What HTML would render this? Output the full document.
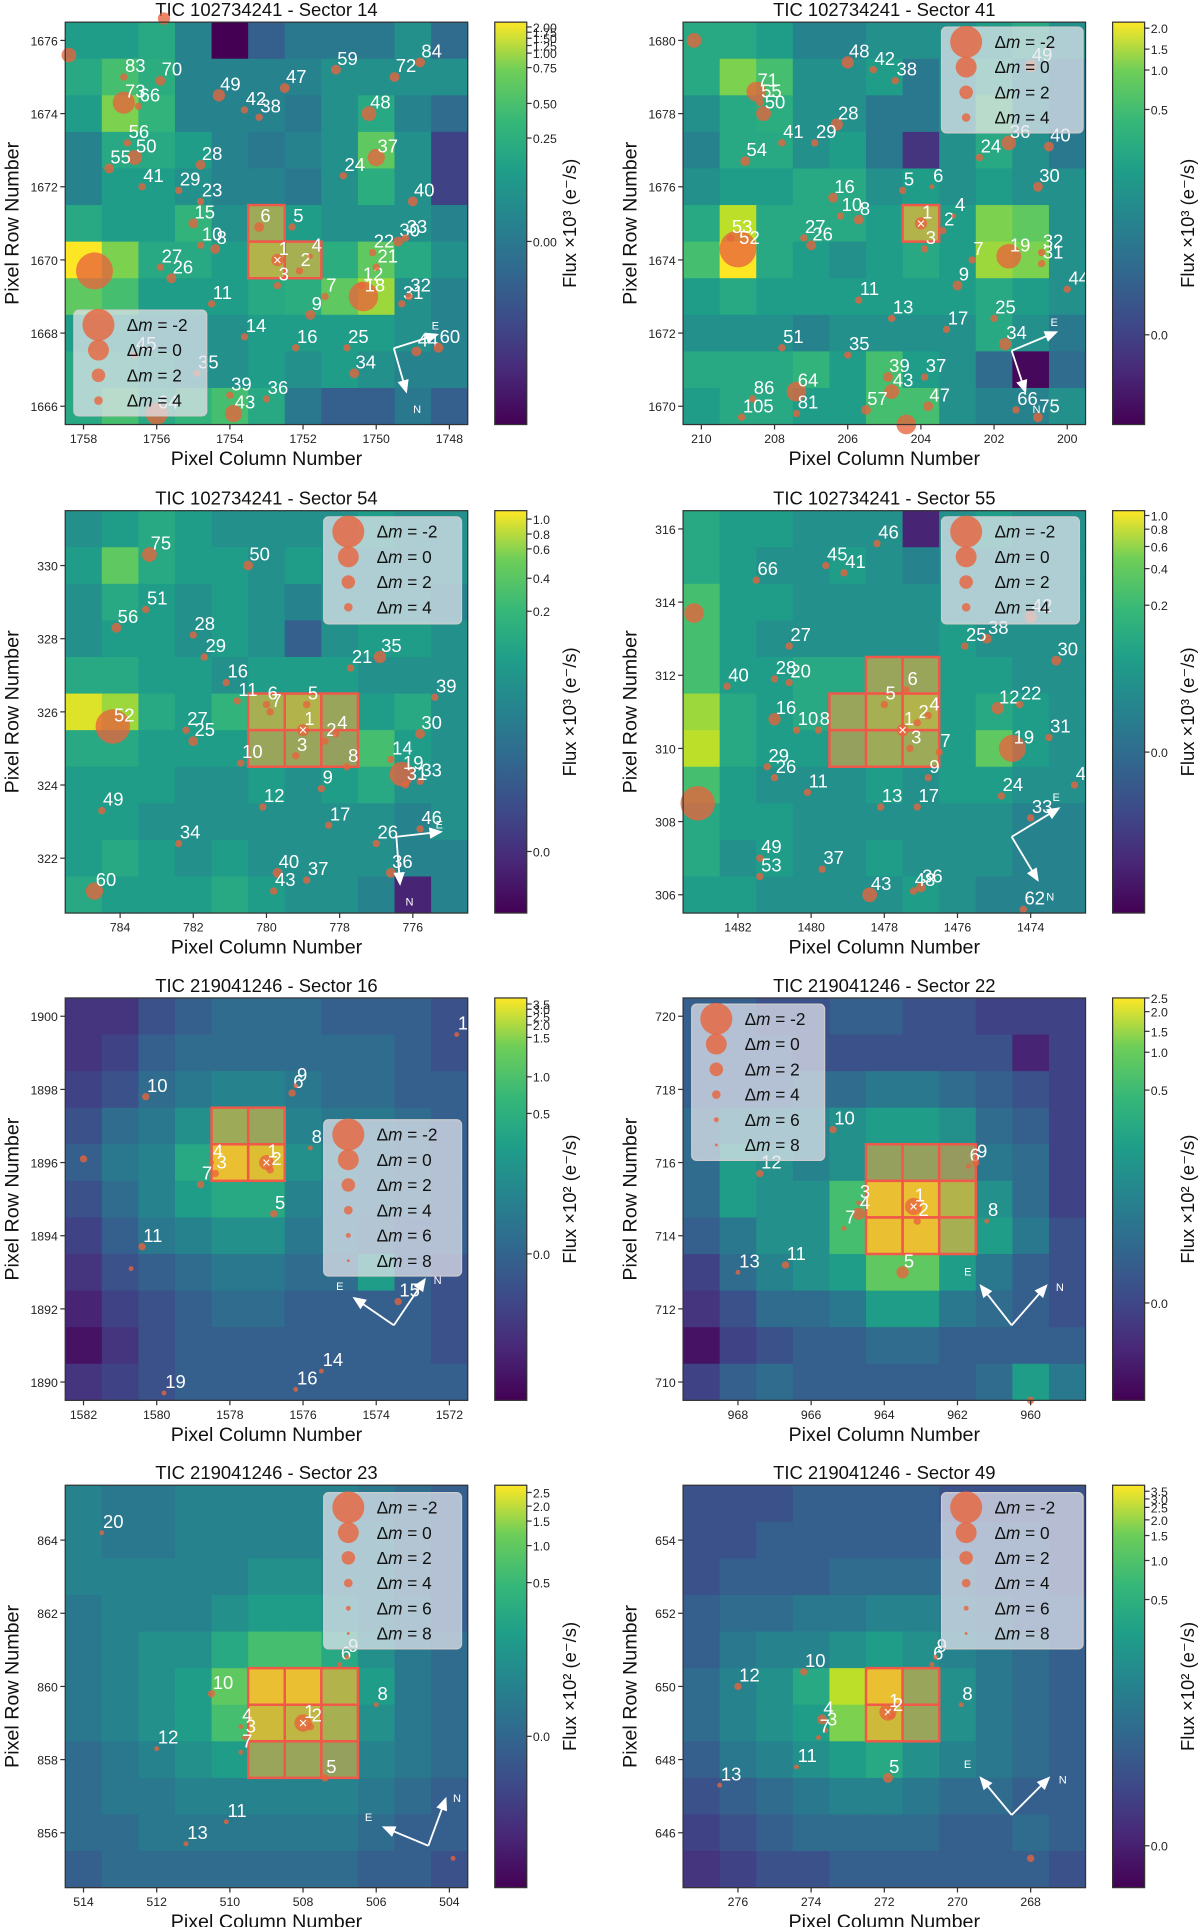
<!DOCTYPE html>
<html><head><meta charset="utf-8"><title>TESS target pixel files</title>
<style>
html,body{margin:0;padding:0;background:#fff;}
svg{display:block;font-family:"Liberation Sans","DejaVu Sans",sans-serif;}
</style></head>
<body>
<svg id="fig" width="1200" height="1927" viewBox="0 0 975 1566" preserveAspectRatio="none" xmlns="http://www.w3.org/2000/svg">
<defs>
<linearGradient id="viridis" x1="0" y1="1" x2="0" y2="0">
<stop offset="0" stop-color="#440154"/><stop offset="0.13" stop-color="#482878"/><stop offset="0.25" stop-color="#3e4989"/><stop offset="0.38" stop-color="#31688e"/><stop offset="0.5" stop-color="#26828e"/><stop offset="0.63" stop-color="#1f9e89"/><stop offset="0.75" stop-color="#35b779"/><stop offset="0.88" stop-color="#6ece58"/><stop offset="1" stop-color="#fde725"/>
</linearGradient>
</defs>
</svg>
<script>
// ---------- Panel data (heatmap values normalised 0..1, rows top->bottom) ----------
const s14Values=[
[0.55,0.55,0.6,0.45,0.0,0.3,0.4,0.4,0.4,0.5,0.35],
[0.6,0.7,0.62,0.45,0.45,0.45,0.45,0.5,0.5,0.5,0.5],
[0.55,0.8,0.65,0.45,0.45,0.45,0.4,0.5,0.6,0.45,0.35],
[0.45,0.6,0.6,0.55,0.45,0.4,0.45,0.5,0.75,0.5,0.2],
[0.45,0.55,0.55,0.5,0.45,0.45,0.4,0.5,0.62,0.5,0.2],
[0.6,0.55,0.55,0.65,0.5,0.65,0.55,0.5,0.5,0.5,0.45],
[1.0,0.8,0.6,0.6,0.55,0.75,0.7,0.62,0.75,0.6,0.5],
[0.75,0.7,0.55,0.55,0.55,0.6,0.62,0.75,0.85,0.5,0.45],
[0.55,0.55,0.5,0.5,0.5,0.55,0.55,0.55,0.55,0.5,0.45],
[0.6,0.6,0.55,0.5,0.5,0.55,0.5,0.55,0.5,0.45,0.45],
[0.6,0.7,0.6,0.65,0.7,0.6,0.4,0.3,0.3,0.4,0.3]];
const s41Values=[
[0.6,0.6,0.55,0.45,0.45,0.5,0.5,0.5,0.55,0.6,0.5],
[0.6,0.8,0.7,0.5,0.5,0.55,0.4,0.5,0.6,0.5,0.4],
[0.5,0.6,0.62,0.5,0.5,0.4,0.4,0.5,0.7,0.5,0.4],
[0.45,0.6,0.6,0.5,0.55,0.4,0.15,0.5,0.6,0.5,0.4],
[0.5,0.55,0.55,0.6,0.6,0.5,0.55,0.5,0.55,0.5,0.5],
[0.6,0.9,0.6,0.6,0.6,0.55,0.75,0.55,0.8,0.75,0.5],
[0.7,1.0,0.6,0.55,0.5,0.55,0.6,0.55,0.85,0.8,0.5],
[0.55,0.6,0.55,0.55,0.55,0.55,0.55,0.55,0.6,0.55,0.5],
[0.5,0.5,0.5,0.45,0.5,0.5,0.5,0.5,0.6,0.5,0.4],
[0.6,0.6,0.6,0.65,0.55,0.7,0.55,0.5,0.35,0.02,0.35],
[0.55,0.6,0.6,0.55,0.55,0.7,0.7,0.5,0.45,0.45,0.5]];
const s54Values=[
[0.5,0.55,0.6,0.55,0.5,0.5,0.5,0.5,0.55,0.5,0.5],
[0.55,0.75,0.6,0.55,0.55,0.5,0.55,0.5,0.5,0.5,0.5],
[0.5,0.6,0.55,0.5,0.55,0.5,0.45,0.5,0.5,0.5,0.45],
[0.5,0.55,0.55,0.5,0.55,0.5,0.3,0.5,0.55,0.55,0.5],
[0.6,0.6,0.55,0.55,0.5,0.55,0.55,0.55,0.5,0.5,0.5],
[0.95,0.85,0.6,0.55,0.65,0.7,0.75,0.6,0.55,0.6,0.5],
[0.6,0.6,0.55,0.55,0.55,0.6,0.6,0.55,0.7,0.55,0.5],
[0.55,0.55,0.55,0.5,0.5,0.55,0.5,0.55,0.6,0.5,0.5],
[0.55,0.55,0.5,0.5,0.5,0.5,0.5,0.5,0.5,0.45,0.5],
[0.55,0.6,0.55,0.5,0.55,0.5,0.5,0.5,0.5,0.45,0.45],
[0.6,0.55,0.55,0.55,0.6,0.55,0.5,0.5,0.45,0.1,0.45]];
const s55Values=[
[0.6,0.55,0.55,0.5,0.5,0.5,0.1,0.5,0.55,0.5,0.5],
[0.6,0.55,0.5,0.5,0.55,0.5,0.45,0.5,0.5,0.5,0.5],
[0.7,0.55,0.55,0.5,0.5,0.5,0.5,0.5,0.5,0.5,0.5],
[0.7,0.55,0.5,0.5,0.5,0.5,0.5,0.55,0.5,0.5,0.5],
[0.7,0.55,0.55,0.6,0.6,0.6,0.6,0.55,0.55,0.5,0.5],
[0.85,0.6,0.55,0.6,0.6,0.7,0.75,0.55,0.6,0.55,0.5],
[0.9,0.6,0.55,0.55,0.55,0.65,0.65,0.55,0.75,0.55,0.5],
[0.7,0.55,0.5,0.5,0.5,0.55,0.5,0.55,0.55,0.5,0.5],
[0.6,0.55,0.55,0.5,0.5,0.5,0.5,0.5,0.5,0.45,0.45],
[0.6,0.5,0.55,0.5,0.5,0.55,0.5,0.5,0.5,0.45,0.45],
[0.55,0.55,0.5,0.5,0.5,0.5,0.55,0.5,0.45,0.45,0.45]];
const s16Values=[
[0.15,0.15,0.25,0.3,0.35,0.35,0.35,0.3,0.3,0.3,0.25],
[0.15,0.2,0.3,0.35,0.35,0.35,0.35,0.35,0.35,0.3,0.25],
[0.2,0.25,0.35,0.4,0.45,0.45,0.4,0.35,0.35,0.3,0.3],
[0.25,0.35,0.4,0.5,0.65,0.6,0.45,0.4,0.4,0.35,0.3],
[0.3,0.4,0.45,0.6,0.95,0.9,0.5,0.45,0.4,0.35,0.3],
[0.25,0.35,0.45,0.55,0.6,0.6,0.45,0.4,0.4,0.35,0.3],
[0.2,0.3,0.4,0.45,0.5,0.5,0.4,0.4,0.35,0.3,0.3],
[0.15,0.25,0.3,0.35,0.4,0.4,0.35,0.35,0.55,0.3,0.25],
[0.1,0.2,0.25,0.3,0.35,0.35,0.3,0.3,0.3,0.3,0.25],
[0.05,0.15,0.25,0.3,0.3,0.3,0.3,0.3,0.3,0.3,0.25],
[0.15,0.2,0.25,0.3,0.3,0.3,0.3,0.3,0.3,0.3,0.3]];
const s22Values=[
[0.3,0.3,0.25,0.25,0.3,0.3,0.25,0.25,0.2,0.2,0.2],
[0.3,0.3,0.3,0.25,0.25,0.25,0.25,0.25,0.25,0.1,0.2],
[0.3,0.3,0.3,0.35,0.35,0.4,0.4,0.35,0.3,0.25,0.2],
[0.35,0.45,0.45,0.45,0.5,0.55,0.55,0.5,0.35,0.3,0.2],
[0.35,0.55,0.5,0.45,0.5,0.55,0.55,0.5,0.4,0.35,0.2],
[0.35,0.55,0.5,0.5,0.7,0.95,0.95,0.75,0.5,0.35,0.2],
[0.3,0.4,0.5,0.5,0.7,0.95,0.95,0.7,0.55,0.4,0.25],
[0.2,0.35,0.45,0.5,0.55,0.75,0.75,0.55,0.4,0.3,0.25],
[0.15,0.25,0.35,0.35,0.4,0.55,0.55,0.4,0.35,0.3,0.25],
[0.05,0.2,0.25,0.3,0.3,0.35,0.35,0.3,0.3,0.3,0.3],
[0.2,0.3,0.35,0.3,0.3,0.3,0.3,0.3,0.35,0.55,0.4]];
const s23Values=[
[0.45,0.4,0.4,0.45,0.45,0.45,0.45,0.45,0.4,0.35,0.3],
[0.45,0.4,0.4,0.45,0.45,0.45,0.45,0.45,0.45,0.35,0.3],
[0.45,0.45,0.45,0.45,0.45,0.5,0.5,0.45,0.45,0.35,0.3],
[0.4,0.45,0.45,0.45,0.5,0.55,0.55,0.5,0.45,0.4,0.3],
[0.4,0.45,0.5,0.5,0.6,0.7,0.7,0.6,0.5,0.4,0.35],
[0.4,0.45,0.5,0.55,0.75,0.95,0.95,0.75,0.55,0.4,0.35],
[0.4,0.45,0.5,0.55,0.7,0.85,0.8,0.7,0.5,0.4,0.35],
[0.35,0.4,0.45,0.5,0.55,0.6,0.6,0.55,0.45,0.4,0.35],
[0.35,0.4,0.4,0.45,0.45,0.45,0.45,0.45,0.4,0.35,0.3],
[0.35,0.35,0.4,0.4,0.4,0.4,0.4,0.4,0.35,0.3,0.3],
[0.3,0.35,0.35,0.35,0.35,0.35,0.35,0.35,0.3,0.3,0.25]];
const s49Values=[
[0.25,0.25,0.25,0.3,0.3,0.3,0.3,0.25,0.25,0.25,0.25],
[0.25,0.25,0.3,0.3,0.3,0.3,0.3,0.3,0.3,0.3,0.25],
[0.25,0.3,0.3,0.3,0.35,0.35,0.35,0.35,0.3,0.3,0.25],
[0.3,0.35,0.35,0.4,0.4,0.45,0.45,0.4,0.35,0.3,0.3],
[0.3,0.4,0.45,0.45,0.5,0.55,0.5,0.45,0.4,0.35,0.3],
[0.35,0.45,0.5,0.6,0.9,0.95,0.6,0.5,0.4,0.35,0.3],
[0.35,0.45,0.5,0.55,0.8,0.85,0.6,0.5,0.4,0.35,0.3],
[0.3,0.4,0.45,0.5,0.55,0.6,0.5,0.45,0.4,0.35,0.3],
[0.25,0.3,0.35,0.4,0.45,0.45,0.4,0.35,0.35,0.3,0.3],
[0.2,0.25,0.3,0.35,0.35,0.35,0.35,0.3,0.3,0.35,0.3],
[0.15,0.2,0.25,0.25,0.3,0.3,0.3,0.3,0.3,0.3,0.25]];

// stars: [column, row, markerRadius, label]
const s14Stars=[[1757.7,1669.7,15,''],[1750.35,1669.0,12,'18'],[1756.9,1674.3,9,'73'],[1752.7,1670.0,5,'1'],[1752.1,1669.7,3,'2'],[1752.7,1669.3,3,'3'],[1751.8,1670.1,2,'4'],[1752.3,1670.9,3,'5'],[1753.2,1670.9,4,'6'],[1751.4,1669.0,3,'7'],[1754.4,1670.3,4,'8'],[1751.8,1668.5,4,'9'],[1754.8,1670.4,3,'10'],[1754.5,1668.8,3,'11'],[1750.4,1669.3,3,'12'],[1753.6,1667.9,3,'14'],[1755.0,1671.0,4,'15'],[1752.2,1667.6,3,'16'],[1750.0,1669.8,3,'21'],[1750.1,1670.2,3,'22'],[1754.8,1671.6,3,'23'],[1750.9,1672.3,3,'24'],[1750.8,1667.6,3,'25'],[1755.6,1669.5,4,'26'],[1755.9,1669.8,3,'27'],[1754.8,1672.6,4,'28'],[1755.4,1671.9,3,'29'],[1749.4,1670.5,4,'30'],[1749.3,1668.8,3,'31'],[1749.1,1669.0,3,'32'],[1749.2,1670.6,3,'33'],[1750.6,1666.9,4,'34'],[1754.9,1666.9,3,'35'],[1753.0,1666.2,3,'36'],[1750.0,1672.8,7,'37'],[1753.2,1673.9,3,'38'],[1754.0,1666.3,3,'39'],[1749.0,1671.6,4,'40'],[1756.4,1672.0,3,'41'],[1753.6,1674.1,3,'42'],[1753.9,1665.8,7,'43'],[1748.9,1667.5,4,'44'],[1756.6,1667.4,3,'45'],[1752.5,1674.7,4,'47'],[1750.2,1674.0,6,'48'],[1754.3,1674.5,5,'49'],[1756.6,1672.8,6,'50'],[1757.3,1672.5,4,'55'],[1756.8,1673.2,3,'56'],[1751.1,1675.2,4,'59'],[1756.0,1665.8,9,'64'],[1756.5,1674.2,3,'66'],[1755.9,1674.9,4,'70'],[1749.5,1675.0,4,'72'],[1756.9,1675.0,3,'83'],[1748.8,1675.4,4,'84'],[1748.3,1667.6,4,'60'],[1755.8,1676.6,5,''],[1758.4,1675.6,6,'']];
const s41Stars=[[209.0,1674.3,15,'52'],[208.5,1678.6,8,'71'],[201.6,1674.1,10,'19'],[204.0,1675.0,5,'1'],[203.4,1674.8,3,'2'],[203.9,1674.3,3,'3'],[203.1,1675.2,2,'4'],[204.5,1675.9,3,'5'],[203.7,1676.0,2,'6'],[206.4,1675.7,4,'16'],[206.2,1675.2,3,'10'],[205.7,1675.1,4,'8'],[202.6,1674.0,3,'7'],[203.0,1673.3,4,'9'],[205.7,1672.9,3,'11'],[204.8,1672.4,3,'13'],[203.3,1672.1,3,'17'],[202.0,1672.4,3,'25'],[201.7,1671.7,5,'34'],[207.0,1674.4,4,'26'],[207.2,1674.6,3,'27'],[209.2,1674.6,3,'53'],[207.8,1671.6,3,'51'],[206.0,1671.4,3,'35'],[204.9,1670.8,4,'39'],[204.8,1670.4,6,'43'],[203.9,1670.8,3,'37'],[203.8,1670.0,4,'47'],[205.5,1669.9,4,'57'],[207.4,1670.4,8,'64'],[207.4,1669.8,3,'81'],[208.6,1670.2,3,'86'],[208.9,1669.7,3,'105'],[200.7,1674.2,3,'32'],[200.7,1673.9,3,'31'],[200.8,1676.0,4,'30'],[200.0,1673.2,3,'44'],[200.5,1677.1,4,'40'],[206.0,1679.4,5,'48'],[204.7,1678.9,3,'38'],[205.3,1679.2,3,'42'],[208.8,1676.7,4,'54'],[206.3,1677.7,5,'28'],[206.9,1677.2,3,'29'],[207.8,1677.2,3,'41'],[208.3,1678.0,6,'50'],[208.4,1678.3,3,'55'],[210.2,1680.0,6,''],[204.4,1669.5,8,''],[200.8,1669.7,4,'75'],[201.4,1669.9,3,'66'],[201.0,1679.3,5,'49'],[201.6,1677.2,6,'36'],[202.4,1676.8,3,'24']];
const s54Stars=[[784.2,325.6,14,'52'],[779.0,325.5,5,'1'],[778.4,325.2,3,'2'],[779.2,324.8,3,'3'],[778.1,325.4,3,'4'],[778.9,326.2,3,'5'],[780.0,326.2,3,'6'],[776.3,324.3,10,'19'],[776.6,324.7,3,'14'],[782.0,325.2,4,'25'],[782.2,325.5,3,'27'],[781.1,326.8,3,'16'],[780.8,326.3,3,'11'],[779.9,326.0,3,'7'],[780.7,324.6,3,'10'],[778.5,323.9,3,'9'],[777.8,324.5,3,'8'],[780.1,323.4,3,'12'],[778.3,322.9,3,'17'],[777.0,322.4,3,'26'],[776.6,321.6,4,'36'],[779.7,321.6,4,'40'],[779.8,321.1,3,'43'],[778.9,321.4,3,'37'],[784.7,321.1,7,'60'],[784.5,323.3,3,'49'],[782.4,322.4,3,'34'],[780.5,330.0,4,'50'],[783.2,330.3,6,'75'],[784.1,328.3,4,'56'],[783.3,328.8,3,'51'],[782.0,328.1,3,'28'],[781.7,327.5,3,'29'],[776.9,327.5,5,'35'],[777.7,327.2,3,'21'],[775.4,326.4,3,'39'],[775.8,325.4,4,'30'],[775.8,324.1,3,'33'],[776.2,324.0,3,'31'],[775.8,322.8,3,'46']];
const s55Stars=[[1483.1,308.5,14,''],[1483.2,313.7,8,''],[1474.5,310.0,11,'19'],[1477.5,310.5,5,'1'],[1477.1,310.7,3,'2'],[1477.3,310.0,3,'3'],[1476.8,310.9,3,'4'],[1478.0,311.2,3,'5'],[1477.4,311.6,3,'6'],[1476.5,309.9,3,'7'],[1479.8,310.5,3,'8'],[1481.0,310.8,5,'16'],[1480.4,310.5,3,'10'],[1480.6,311.8,3,'20'],[1481.0,311.9,3,'28'],[1482.3,311.7,3,'40'],[1481.2,309.5,3,'29'],[1481.0,309.2,3,'26'],[1480.1,308.8,3,'11'],[1478.1,308.4,3,'13'],[1477.1,308.4,3,'17'],[1476.8,309.2,3,'9'],[1474.8,308.7,3,'24'],[1474.0,308.1,3,'33'],[1472.8,309.0,3,'44'],[1474.9,311.1,5,'12'],[1474.3,311.2,3,'22'],[1473.5,310.3,3,'31'],[1473.3,312.4,4,'30'],[1475.2,313.0,4,'38'],[1475.8,312.8,3,'25'],[1474.0,313.6,5,'42'],[1480.6,312.8,3,'27'],[1481.5,314.6,3,'66'],[1479.6,315.0,3,'45'],[1479.1,314.8,3,'41'],[1478.2,315.6,3,'46'],[1481.4,306.5,3,'53'],[1481.4,307.0,3,'49'],[1479.7,306.7,3,'37'],[1478.4,306.0,6,'43'],[1477.0,306.2,4,'36'],[1474.2,305.6,3,'62'],[1477.2,306.1,3,'48']];
const s16Stars=[[1577.0,1896.0,6,'1'],[1576.9,1895.8,3,'2'],[1578.4,1895.7,3,'3'],[1578.5,1896.0,2,'4'],[1576.8,1894.6,3,'5'],[1576.3,1897.9,3,'6'],[1578.8,1895.4,3,'7'],[1575.8,1896.4,2,'8'],[1576.2,1898.1,2,'9'],[1580.3,1897.8,3,'10'],[1580.4,1893.7,3,'11'],[1573.4,1892.2,3,'15'],[1582.0,1896.1,3,''],[1580.7,1893.1,2,''],[1576.2,1889.8,2,'16'],[1575.5,1890.3,2,'14'],[1579.8,1889.7,2,'19'],[1571.8,1899.5,2,'17']];
const s22Stars=[[963.2,714.8,7,'1'],[963.1,714.4,3,'2'],[964.7,714.9,2,'3'],[964.7,714.6,5,'4'],[963.5,713.0,5,'5'],[961.7,715.9,2,'6'],[965.1,714.2,2,'7'],[961.2,714.4,2,'8'],[961.5,716.0,3,'9'],[965.4,716.9,3,'10'],[966.7,713.2,3,'11'],[967.4,715.7,3,'12'],[968.0,713.0,2,'13'],[960.0,709.5,3,'']];
const s23Stars=[[508.0,859.0,7,'1'],[507.8,858.9,3,'2'],[509.6,858.6,2,'3'],[509.7,858.9,2,'4'],[507.4,857.5,3,'5'],[507.0,860.6,2,'6'],[509.7,858.2,2,'7'],[506.0,859.5,2,'8'],[506.8,860.8,2,'9'],[510.5,859.8,3,'10'],[510.1,856.3,2,'11'],[512.0,858.3,2,'12'],[511.2,855.7,2,'13'],[513.5,864.2,2,'20'],[503.9,855.3,2,'']];
const s49Stars=[[271.9,649.3,7,'1'],[271.8,649.2,3,'2'],[273.6,648.8,2,'3'],[273.7,649.1,4,'4'],[271.9,647.5,4,'5'],[270.7,650.6,2,'6'],[273.8,648.6,2,'7'],[269.9,649.5,2,'8'],[270.6,650.8,2,'9'],[274.2,650.4,3,'10'],[274.4,647.8,2,'11'],[276.0,650.0,3,'12'],[276.5,647.3,2,'13'],[268.0,645.3,3,'']];

// aperture pixels [column,row]
const s14Aperture=[[1753,1671],[1753,1670],[1752,1670]];
const s41Aperture=[[204,1675]];
const s54Aperture=[[780,326],[779,326],[778,326],[780,325],[779,325],[778,325]];
const s55Aperture=[[1478,312],[1477,312],[1479,311],[1478,311],[1477,311],[1479,310],[1478,310],[1477,310]];
const s16Aperture=[[1578,1897],[1577,1897],[1578,1896],[1577,1896]];
const s22Aperture=[[964,716],[963,716],[962,716],[964,715],[963,715],[962,715],[964,714],[963,714],[962,714]];
const s23Aperture=[[509,860],[508,860],[507,860],[509,859],[508,859],[507,859],[509,858],[508,858],[507,858]];
const s49Aperture=[[272,650],[271,650],[272,649],[271,649]];

// colorbar tick labels and their fractional position from top
const s14CbLabels=['2.00','1.75','1.50','1.25','1.00','0.75','0.50','0.25','0.00'];
const s14CbPos=[0.012,0.025,0.04,0.058,0.077,0.113,0.202,0.288,0.545];
const s41CbLabels=['2.0','1.5','1.0','0.5','0.0'];
const s41CbPos=[0.015,0.067,0.119,0.217,0.777];
const s54CbLabels=['1.0','0.8','0.6','0.4','0.2','0.0'];
const s54CbPos=[0.021,0.058,0.095,0.168,0.25,0.847];
const s55CbLabels=['1.0','0.8','0.6','0.4','0.2','0.0'];
const s55CbPos=[0.012,0.046,0.089,0.144,0.235,0.6];
const s16CbLabels=['3.5','3.0','2.5','2.0','1.5','1.0','0.5','0.0'];
const s16CbPos=[0.015,0.028,0.046,0.067,0.098,0.196,0.287,0.636];
const s22CbLabels=['2.5','2.0','1.5','1.0','0.5','0.0'];
const s22CbPos=[0.0,0.034,0.083,0.135,0.229,0.758];
const s23CbLabels=['2.5','2.0','1.5','1.0','0.5','0.0'];
const s23CbPos=[0.018,0.052,0.089,0.15,0.242,0.624];
const s49CbLabels=['3.5','3.0','2.5','2.0','1.5','1.0','0.5','0.0'];
const s49CbPos=[0.015,0.034,0.055,0.086,0.125,0.187,0.284,0.896];

const legendMags=['-2','0','2','4','6','8'];
const legendRadii=[13,8.5,5.5,3.5,2,1.2];

const panels=[
 {key:'s14',title:'TIC 102734241 - Sector 14',col:0,row:0,x0:1758.5,y0:1676.5,vals:s14Values,stars:s14Stars,ap:s14Aperture,cbL:s14CbLabels,cbP:s14CbPos,exp:'3',leg:[60,252,108,86],nleg:4,comp:[320,283,355,272,330,318]},
 {key:'s41',title:'TIC 102734241 - Sector 41',col:1,row:0,x0:210.5,y0:1680.5,vals:s41Values,stars:s41Stars,ap:s41Aperture,cbL:s41CbLabels,cbP:s41CbPos,exp:'3',leg:[765,22,115,86],nleg:4,comp:[822,285,858,270,833,318]},
 {key:'s54',title:'TIC 102734241 - Sector 54',col:0,row:1,x0:785.5,y0:331.5,vals:s54Values,stars:s54Stars,ap:s54Aperture,cbL:s54CbLabels,cbP:s54CbPos,exp:'3',leg:[263,420,112,87],nleg:4,comp:[322,680,358,676,325,718]},
 {key:'s55',title:'TIC 102734241 - Sector 55',col:1,row:1,x0:1483.5,y0:316.5,vals:s55Values,stars:s55Stars,ap:s55Aperture,cbL:s55CbLabels,cbP:s55CbPos,exp:'3',leg:[765,420,112,87],nleg:4,comp:[822,680,860,657,843,715]},
 {key:'s16',title:'TIC 219041246 - Sector 16',col:0,row:2,x0:1582.5,y0:1900.5,vals:s16Values,stars:s16Stars,ap:s16Aperture,cbL:s16CbLabels,cbP:s16CbPos,exp:'2',leg:[263,910,112,127],nleg:6,comp:[320,1077,288,1055,345,1040]},
 {key:'s22',title:'TIC 219041246 - Sector 22',col:1,row:2,x0:969.5,y0:720.5,vals:s22Values,stars:s22Stars,ap:s22Aperture,cbL:s22CbLabels,cbP:s22CbPos,exp:'2',leg:[562,816,108,127],nleg:6,comp:[822,1077,797,1045,850,1045]},
 {key:'s23',title:'TIC 219041246 - Sector 23',col:0,row:3,x0:514.5,y0:865.5,vals:s23Values,stars:s23Stars,ap:s23Aperture,cbL:s23CbLabels,cbP:s23CbPos,exp:'2',leg:[263,1213,112,127],nleg:6,comp:[348,1500,312,1485,362,1462]},
 {key:'s49',title:'TIC 219041246 - Sector 49',col:1,row:3,x0:277.5,y0:655.5,vals:s49Values,stars:s49Stars,ap:s49Aperture,cbL:s49CbLabels,cbP:s49CbPos,exp:'2',leg:[765,1213,115,127],nleg:6,comp:[822,1475,797,1445,852,1445]}
];

// ---------- helpers ----------
const NS='http://www.w3.org/2000/svg';
const svg=document.getElementById('fig');
const VIR=[[68,1,84],[72,40,120],[62,73,137],[49,104,142],[38,130,142],[31,158,137],[53,183,121],[110,206,88],[181,222,43],[253,231,37]];
function viridis(t){t=Math.max(0,Math.min(1,t));const f=t*(VIR.length-1);const i=Math.min(VIR.length-2,Math.floor(f));const u=f-i;const a=VIR[i],b=VIR[i+1];return 'rgb('+[0,1,2].map(k=>Math.round(a[k]+(b[k]-a[k])*u)).join(',')+')';}
function mk(tag,attrs,parent){const e=document.createElementNS(NS,tag);for(const k in attrs)e.setAttribute(k,attrs[k]);(parent||svg).appendChild(e);return e;}
const PW=327,N=11,CS=PW/N;
const LEFTS=[53,555],TOPS=[18,415,811,1207];

panels.forEach(p=>{
 const L=LEFTS[p.col],T=TOPS[p.row];
 const xs=c=>L+(p.x0-c)*CS;
 const ys=r=>T+(p.y0-r)*CS;
 const g=mk('g',{});
 
 
 const t=mk('text',{x:L+PW/2,y:T-5,'text-anchor':'middle','font-size':15,fill:'#111'},g);
 t.textContent=p.title;
 
 
 const hm=mk('g',{},g);
 
 
 p.vals.forEach((rowArr,ri)=>{rowArr.forEach((v,ci)=>{
  const c=p.x0-0.5-ci, r=p.y0-0.5-ri;
  const cell=mk('rect',{x:xs(c+0.5),y:ys(r+0.5),width:CS+0.4,height:CS+0.4,fill:viridis(v)},hm);
  
  
 });});
 p.ap.forEach(a=>{
  const ar=mk('rect',{x:xs(a[0]+0.5),y:ys(a[1]+0.5),width:CS,height:CS,fill:'#f6a23a','fill-opacity':0.55,stroke:'#f0584a','stroke-width':2},g);
  
  
 });
 p.stars.forEach(s=>{
  const cx=xs(s[0]),cy=ys(s[1]);
  const c=mk('circle',{cx:cx,cy:cy,r:s[2],fill:'#e8643c','fill-opacity':0.78},g);
  
  
  if(s[3]){
   const lb=mk('text',{x:cx+1,y:cy-4,'font-size':15,fill:'#fff'},g);
   lb.textContent=s[3];
   
   
  }
  if(s[3]==='1'){
   const x=mk('text',{x:cx,y:cy+4,'font-size':12,fill:'#fff','text-anchor':'middle'},g);
   x.textContent='×';
   
   
  }
 });
 const fr=mk('rect',{x:L,y:T,width:PW,height:PW,fill:'none',stroke:'#333','stroke-width':1},g);
 
 
 for(let v=Math.floor(p.x0);v>p.x0-N;v--){ if(v%2!==0)continue;
  const x=xs(v);
  mk('line',{x1:x,y1:T+PW,x2:x,y2:T+PW+4,stroke:'#333'},g);
  const tl=mk('text',{x:x,y:T+PW+15,'font-size':10,'text-anchor':'middle',fill:'#222'},g);
  tl.textContent=v;
  
  
 }
 for(let v=Math.floor(p.y0);v>p.y0-N;v--){ if(v%2!==0)continue;
  const y=ys(v);
  mk('line',{x1:L-4,y1:y,x2:L,y2:y,stroke:'#333'},g);
  const tl=mk('text',{x:L-6,y:y+4,'font-size':10,'text-anchor':'end',fill:'#222'},g);
  tl.textContent=v;
  
  
 }
 const xt=mk('text',{x:L+PW/2,y:T+PW+33,'font-size':16,'text-anchor':'middle',fill:'#111'},g);
 xt.textContent='Pixel Column Number';
 
 
 const yt=mk('text',{x:0,y:0,'font-size':16,'text-anchor':'middle',fill:'#111',transform:'translate('+(L-38)+','+(T+PW/2)+') rotate(-90)'},g);
 yt.textContent='Pixel Row Number';
 
 
 const CX=L+349;
 const cb=mk('rect',{x:CX,y:T,width:26,height:PW,fill:'url(#viridis)',stroke:'#333','stroke-width':1},g);
 
 
 p.cbL.forEach((lab,i)=>{
  const y=T+p.cbP[i]*PW;
  mk('line',{x1:CX+26,y1:y,x2:CX+30,y2:y,stroke:'#333'},g);
  const cl=mk('text',{x:CX+31,y:y+4,'font-size':10,fill:'#222'},g);
  cl.textContent=lab;
  
  
 });
 const ct=mk('text',{x:0,y:0,'font-size':15,'text-anchor':'middle',fill:'#111',transform:'translate('+(CX+66)+','+(T+PW/2)+') rotate(-90)'},g);
 ct.textContent='Flux ×10'+(p.exp==='3'?'³':'²')+' (e⁻/s)';
 
 
 const cp=p.comp;
 const cg=mk('g',{stroke:'#fff','stroke-width':1.5,fill:'#fff'},g);
 
 
 [[cp[2],cp[3],'E'],[cp[4],cp[5],'N']].forEach(a=>{
  mk('line',{x1:cp[0],y1:cp[1],x2:a[0],y2:a[1]},cg);
  const ang=Math.atan2(a[1]-cp[1],a[0]-cp[0]);
  const hx=a[0],hy=a[1];
  const p1=[hx-9*Math.cos(ang-0.4),hy-9*Math.sin(ang-0.4)],p2=[hx-9*Math.cos(ang+0.4),hy-9*Math.sin(ang+0.4)];
  mk('polygon',{points:hx+','+hy+' '+p1.join(',')+' '+p2.join(',')},cg);
  const lt=mk('text',{x:hx+(a[2]==='E'?-10:4)+Math.cos(ang)*6,y:hy+Math.sin(ang)*8+(a[2]==='N'?10:-2),'font-size':9,stroke:'none',fill:'#fff'},cg);
  lt.textContent=a[2];
 });
 const lg=p.leg;
 const lgG=mk('g',{},g);
 
 
 mk('rect',{x:lg[0],y:lg[1],width:lg[2],height:lg[3],rx:4,fill:'#e6e6ee','fill-opacity':0.72,stroke:'#ccc'},lgG);
 for(let i=0;i<p.nleg;i++){
  const yy=lg[1]+12+i*20.5;
  const lc=mk('circle',{cx:lg[0]+20,cy:yy,r:legendRadii[i],fill:'#e8643c','fill-opacity':0.8},lgG);
  
  
  const lt=mk('text',{x:lg[0]+43,y:yy+5,'font-size':14,fill:'#111'},lgG);
  lt.innerHTML='Δ<tspan font-style="italic">m</tspan> =  '+legendMags[i];
  
  
 }
});
</script>
</body></html>
